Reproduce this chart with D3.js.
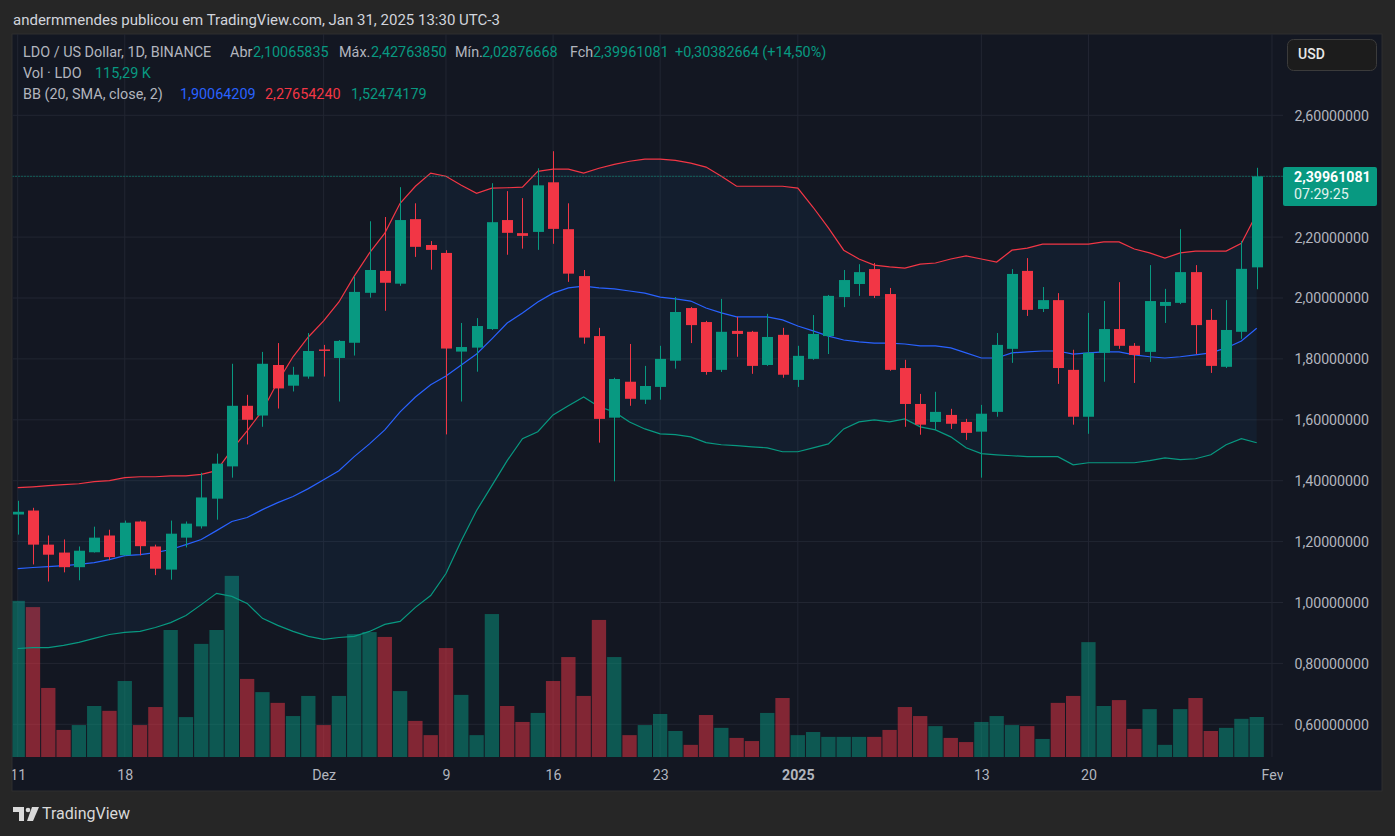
<!DOCTYPE html>
<html>
<head>
<meta charset="utf-8">
<style>
  body { margin: 0; background: #262626; }
  svg { display: block; font-family: Roboto, "Noto Sans", sans-serif; }
  .axis path, .axis line { display: none; }
  .axis text { fill: #b2b5be; font-size: 14.2px; font-family: Roboto, sans-serif; }
</style>
<script src="https://d3js.org/d3.v7.min.js"></script>
</head>
<body>
<script>
// daily candles, LDO/USD, 11 Nov 2024 .. 31 Jan 2025
var opens = [1.289,1.302,1.190,1.164,1.116,1.165,1.220,1.155,1.266,1.184,1.108,1.213,1.250,1.341,1.447,1.646,1.614,1.780,1.712,1.742,
  1.831,1.803,1.853,2.017,2.089,2.047,2.259,2.174,2.148,1.824,1.837,1.898,2.256,2.213,2.217,2.380,2.226,2.072,1.875,1.607,1.725,
  1.666,1.708,1.794,1.967,1.921,1.764,1.892,1.889,1.780,1.879,1.731,1.800,1.875,2.003,2.046,2.095,2.013,1.770,1.652,1.593,
  1.616,1.593,1.561,1.626,1.833,2.089,1.964,1.993,1.764,1.610,1.820,1.898,1.843,1.823,1.974,1.984,2.085,1.928,1.774,1.889,2.10065835];
var highs = [1.334,1.311,1.220,1.207,1.184,1.249,1.239,1.269,1.269,1.190,1.269,1.266,1.426,1.489,1.784,1.682,1.823,1.852,1.774,1.885,
  1.846,1.862,2.070,2.252,2.266,2.364,2.311,2.187,2.157,1.918,1.934,2.377,2.351,2.328,2.426,2.482,2.311,2.092,1.902,1.738,1.849,
  1.777,1.843,2.003,1.970,1.925,1.997,1.938,1.892,1.948,1.902,1.843,1.944,2.010,2.092,2.111,2.115,2.033,1.797,1.685,1.692,
  1.636,1.603,1.649,1.885,2.095,2.131,2.036,2.016,1.830,1.951,1.990,2.052,1.852,2.108,2.030,2.226,2.108,1.964,1.993,2.187,2.42763850];
var lows = [1.223,1.125,1.069,1.099,1.073,1.164,1.139,1.154,1.155,1.090,1.075,1.181,1.243,1.272,1.410,1.519,1.577,1.637,1.693,1.735,
  1.742,1.660,1.811,2.001,1.958,2.040,2.135,2.093,1.552,1.660,1.758,1.895,2.142,2.162,2.158,2.178,2.053,1.850,1.525,1.398,1.646,
  1.652,1.666,1.768,1.852,1.748,1.757,1.807,1.751,1.777,1.738,1.708,1.797,1.816,1.970,2.007,2.000,1.761,1.577,1.551,1.567,
  1.570,1.534,1.410,1.610,1.787,1.941,1.954,1.718,1.584,1.554,1.725,1.833,1.721,1.790,1.918,1.980,1.816,1.754,1.770,1.866,2.02876668];
var closes = [1.298,1.190,1.157,1.116,1.170,1.213,1.149,1.262,1.185,1.111,1.226,1.259,1.345,1.456,1.646,1.600,1.784,1.703,1.748,1.826,
  1.828,1.859,2.020,2.092,2.050,2.256,2.168,2.158,1.834,1.839,1.908,2.249,2.214,2.204,2.370,2.227,2.080,1.870,1.603,1.734,1.669,
  1.711,1.800,1.954,1.911,1.757,1.889,1.882,1.777,1.872,1.748,1.810,1.882,2.007,2.059,2.085,2.007,1.764,1.652,1.584,1.626,
  1.587,1.557,1.620,1.846,2.079,1.961,1.993,1.770,1.610,1.820,1.898,1.843,1.813,1.990,1.987,2.085,1.911,1.777,1.895,2.09578417,2.39961081];
// volume in thousands of LDO
var volumes = [450,432,199,78,92,147,133,219,92,144,366,115,326,366,522,225,187,156,118,176,
  92,176,354,360,346,190,104,63,314,179,63,412,147,101,127,219,288,176,395,288,63,
  92,124,75,35,121,84,55,46,127,170,63,72,58,58,58,58,78,144,118,89,
  55,43,101,118,92,89,52,156,176,331,147,164,81,138,35,138,170,75,84,110,115.29];
// Bollinger Bands (20, SMA, close, 2)
var bbBasis = [1.111,1.115,1.118,1.121,1.125,1.131,1.141,1.154,1.157,1.164,1.174,1.190,1.207,1.236,1.266,1.279,1.305,1.328,1.348,1.374,
  1.403,1.433,1.479,1.521,1.567,1.626,1.675,1.715,1.744,1.780,1.816,1.866,1.918,1.951,1.987,2.016,2.033,2.039,2.033,2.030,2.023,
  2.016,2.003,1.997,1.990,1.967,1.951,1.938,1.938,1.938,1.928,1.908,1.892,1.875,1.862,1.856,1.852,1.852,1.849,1.843,1.843,
  1.836,1.820,1.803,1.803,1.820,1.823,1.826,1.826,1.816,1.820,1.823,1.823,1.813,1.807,1.803,1.807,1.813,1.820,1.836,1.859,1.90064209];
var bbUpper = [1.377,1.380,1.384,1.387,1.390,1.397,1.400,1.410,1.413,1.413,1.416,1.416,1.421,1.433,1.502,1.564,1.630,1.725,1.807,1.872,
  1.925,1.987,2.072,2.148,2.213,2.311,2.367,2.410,2.400,2.370,2.344,2.361,2.362,2.364,2.416,2.423,2.423,2.410,2.426,2.439,2.449,
  2.456,2.456,2.452,2.443,2.430,2.400,2.367,2.367,2.367,2.367,2.361,2.298,2.230,2.157,2.128,2.108,2.102,2.098,2.111,2.115,
  2.128,2.138,2.128,2.118,2.157,2.164,2.177,2.177,2.177,2.177,2.184,2.184,2.161,2.148,2.131,2.148,2.154,2.154,2.154,2.180,2.27654240];
var bbLower = [0.849,0.852,0.852,0.859,0.869,0.882,0.895,0.902,0.905,0.918,0.934,0.957,0.993,1.030,1.020,0.997,0.948,0.925,0.905,0.889,
  0.879,0.885,0.889,0.905,0.928,0.938,0.984,1.023,1.095,1.203,1.302,1.384,1.466,1.538,1.561,1.616,1.646,1.675,1.643,1.626,1.593,
  1.570,1.554,1.551,1.544,1.525,1.518,1.515,1.511,1.508,1.495,1.495,1.508,1.521,1.570,1.593,1.600,1.593,1.603,1.577,1.567,
  1.544,1.508,1.489,1.485,1.482,1.479,1.479,1.479,1.452,1.459,1.459,1.459,1.459,1.466,1.475,1.469,1.472,1.485,1.518,1.538,1.52474179];

var gridTicks = [0.6, 0.8, 1.0, 1.2, 1.4, 1.6, 1.8, 2.0, 2.2, 2.4, 2.6];
var priceTicks = [0.6, 0.8, 1.0, 1.2, 1.4, 1.6, 1.8, 2.0, 2.2, 2.6];  // 2,4 sits under the last-price label
var timeTicks = ["2024-11-11","2024-11-18","2024-12-01","2024-12-09","2024-12-16","2024-12-23","2025-01-01","2025-01-13","2025-01-20","2025-02-01"];
var timeLabels = ["11","18","Dez","9","16","23","2025","13","20","Fev"];

var W = 1395, H = 836;
var GREEN = "#089981", RED = "#f23645", BLUE = "#2962ff";

var days = d3.utcDay.range(new Date(Date.UTC(2024, 10, 11)), new Date(Date.UTC(2025, 1, 1)));
var data = days.map(function(d, i) {
  return {date: d, o: opens[i], h: highs[i], l: lows[i], c: closes[i], v: volumes[i],
          mid: bbBasis[i], up: bbUpper[i], lo: bbLower[i]};
});

var ptBR = d3.formatLocale({decimal: ",", thousands: ".", grouping: [3], currency: ["", ""]});
var f8 = ptBR.format(".8f"), f2 = ptBR.format(".2f");

var plotL = 12.5, plotR = 1283, plotT = 34, plotB = 757;

var x = d3.scaleUtc().domain([days[0], days[days.length - 1]]).range([17.7, 1256.7]);
var y = d3.scaleLinear().domain([0.6, 2.6]).range([724.3, 115.3]);
var yv = d3.scaleLinear().domain([0, 600]).range([plotB, plotB - 600 * 0.347]);
var step = x(days[1]) - x(days[0]);

var svg = d3.select("body").append("svg").attr("width", W).attr("height", H);

svg.append("text").attr("x", 13).attr("y", 21).attr("dominant-baseline", "middle")
  .attr("fill", "#d1d4dc").style("font-size", "15px")
  .text("andermmendes publicou em TradingView.com, Jan 31, 2025 13:30 UTC-3");

// panel
svg.append("rect").attr("x", 12).attr("y", 34).attr("width", 1370).attr("height", 757)
  .attr("fill", "#131722").attr("stroke", "#2e2e2e");

svg.append("defs").append("clipPath").attr("id", "plotclip")
  .append("rect").attr("x", plotL).attr("y", plotT).attr("width", plotR - plotL).attr("height", plotB - plotT + 40);

var grid = svg.append("g").attr("clip-path", "url(#plotclip)");
grid.selectAll(".hg").data(gridTicks).enter().append("line")
  .attr("x1", plotL).attr("x2", plotR)
  .attr("y1", function(d) { return y(d); }).attr("y2", function(d) { return y(d); })
  .attr("stroke", "#222632").attr("stroke-width", 1);
grid.selectAll(".vg").data(timeTicks).enter().append("line")
  .attr("x1", function(d) { return x(new Date(d + "T00:00:00Z")); })
  .attr("x2", function(d) { return x(new Date(d + "T00:00:00Z")); })
  .attr("y1", plotT).attr("y2", plotB)
  .attr("stroke", "#222632").attr("stroke-width", 1);

var plot = svg.append("g").attr("clip-path", "url(#plotclip)");

// volume
plot.selectAll(".vol").data(data).enter().append("rect")
  .attr("x", function(d) { return x(d.date) - step / 2 + 0.5; })
  .attr("width", step - 1)
  .attr("y", function(d) { return yv(d.v); })
  .attr("height", function(d) { return plotB - yv(d.v); })
  .attr("fill", function(d) { return d.c >= d.o ? GREEN : RED; })
  .attr("opacity", 0.5);

// bollinger band fill and lines
plot.append("path").datum(data)
  .attr("d", d3.area().x(function(d) { return x(d.date); })
    .y0(function(d) { return y(d.lo); }).y1(function(d) { return y(d.up); }))
  .attr("fill", "rgba(33,150,243,0.06)");

[["up", RED], ["mid", BLUE], ["lo", GREEN]].forEach(function(s) {
  plot.append("path").datum(data)
    .attr("d", d3.line().x(function(d) { return x(d.date); }).y(function(d) { return y(d[s[0]]); }))
    .attr("fill", "none").attr("stroke", s[1]).attr("stroke-width", 1.2);
});

// last price line
var last = data[data.length - 1], prev = data[data.length - 2];
plot.append("line").attr("x1", plotL).attr("x2", plotR)
  .attr("y1", y(last.c)).attr("y2", y(last.c))
  .attr("stroke", GREEN).attr("stroke-dasharray", "1,2");

// candles
var candle = plot.selectAll(".candle").data(data).enter().append("g");
candle.append("line")
  .attr("x1", function(d) { return Math.round(x(d.date)) + 0.5; })
  .attr("x2", function(d) { return Math.round(x(d.date)) + 0.5; })
  .attr("y1", function(d) { return y(d.h); }).attr("y2", function(d) { return y(d.l); })
  .attr("stroke", function(d) { return d.c >= d.o ? GREEN : RED; });
candle.append("rect")
  .attr("x", function(d) { return Math.round(x(d.date)) - 5; })
  .attr("width", 11)
  .attr("y", function(d) { return y(Math.max(d.o, d.c)); })
  .attr("height", function(d) { return Math.max(1.5, Math.abs(y(d.o) - y(d.c))); })
  .attr("fill", function(d) { return d.c >= d.o ? GREEN : RED; });

// price axis
var yAxis = d3.axisRight(y).tickValues(priceTicks).tickSize(0).tickPadding(0)
  .tickFormat(function(d) { return f8(d); });
svg.append("g").attr("class", "axis").attr("transform", "translate(1369,0)").call(yAxis)
  .selectAll("text").attr("text-anchor", "end").attr("dy", "0.35em");

// time axis
var xAxis = d3.axisBottom(x).tickValues(timeTicks.map(function(d) { return new Date(d + "T00:00:00Z"); }))
  .tickSize(0).tickPadding(0)
  .tickFormat(function(d, i) { return timeLabels[i]; });
var xg = svg.append("g").attr("class", "axis").attr("clip-path", "url(#plotclip)")
  .append("g").attr("transform", "translate(0,775)").call(xAxis);
xg.selectAll("text").attr("dy", "0.35em")
  .style("font-weight", function(d, i) { return timeLabels[i] === "2025" ? "bold" : null; });

// last price label
svg.append("rect").attr("x", 1283).attr("y", 167).attr("width", 94).attr("height", 39)
  .attr("rx", 2).attr("fill", GREEN);
svg.append("text").attr("x", 1294).attr("y", 178).attr("dominant-baseline", "middle")
  .attr("fill", "#ffffff").style("font-size", "14.2px").style("font-weight", "bold").text(f8(last.c));
svg.append("text").attr("x", 1294).attr("y", 195).attr("dominant-baseline", "middle")
  .attr("fill", "#e0f2ee").style("font-size", "14.2px").text("07:29:25");

// currency box
svg.append("rect").attr("x", 1287.5).attr("y", 39.5).attr("width", 89).attr("height", 31)
  .attr("rx", 6).attr("fill", "#1c1c1c").attr("stroke", "#3b3b3b");
svg.append("text").attr("x", 1298).attr("y", 55).attr("dominant-baseline", "middle")
  .attr("fill", "#e8e8e8").style("font-size", "14px").style("font-weight", "500").text("USD");

// legend
var GRAY = "#b2b5be";
var chg = last.c - prev.c;
var legend = [
  [53, [[23, "LDO / US Dollar, 1D, BINANCE", GRAY], [230, "Abr", GRAY], [253, f8(last.o), GREEN],
        [339, "Máx.", GRAY], [371, f8(last.h), GREEN], [455, "Mín.", GRAY], [482, f8(last.l), GREEN],
        [570, "Fch", GRAY], [593, f8(last.c), GREEN],
        [675, "+" + f8(chg) + " (+" + f2(chg / prev.c * 100) + "%)", GREEN]]],
  [74, [[23, "Vol · LDO", GRAY], [95, f2(last.v) + " K", GREEN]]],
  [95, [[23, "BB (20, SMA, close, 2)", GRAY], [180, f8(last.mid), BLUE], [265, f8(last.up), RED], [351, f8(last.lo), GREEN]]]
];
legend.forEach(function(row) {
  row[1].forEach(function(p) {
    svg.append("text").attr("x", p[0]).attr("y", row[0]).attr("dominant-baseline", "middle")
      .attr("fill", p[2]).style("font-size", "14.4px").text(p[1]);
  });
});

// watermark
var logo = svg.append("g").attr("fill", "#d9d9d9");
logo.append("path").attr("d", "M13,807 h11 v14 h-5 v-9 h-6 z");
logo.append("circle").attr("cx", 28).attr("cy", 810).attr("r", 2.3);
logo.append("path").attr("d", "M32,807 h7 l-6,14 h-6 z");
svg.append("text").attr("x", 42).attr("y", 815).attr("dominant-baseline", "middle")
  .attr("fill", "#d9d9d9").style("font-size", "16px").text("TradingView");
</script>
</body>
</html>
